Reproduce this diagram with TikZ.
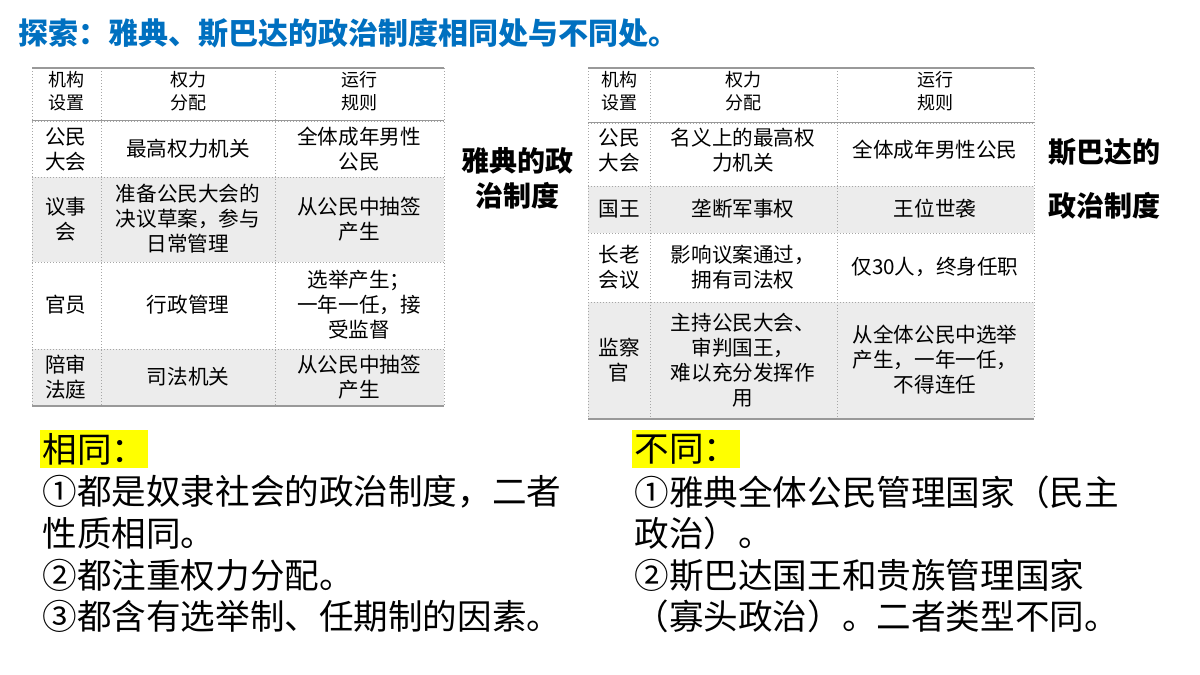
\documentclass[tikz,border=0pt]{standalone}
\usepackage{fontspec}
\setmainfont{Noto Sans CJK SC}
\usetikzlibrary{positioning}
\definecolor{titleblue}{RGB}{0,112,192}
\definecolor{rowgray}{RGB}{236,236,236}
\definecolor{hlyellow}{RGB}{255,255,0}
\begin{document}
\begin{tikzpicture}[x=0.5pt,y=-0.5pt,
    cell/.style={align=center, font=\fontsize{10.3}{12.5}\selectfont, inner sep=0pt},
    head/.style={align=center, font=\fontsize{9}{11.5}\selectfont, inner sep=0pt},
    grid/.style={gray!70, densely dotted, line width=0.5pt},
    rule/.style={gray!80, line width=1pt},
    side/.style={align=center, font=\fontsize{14}{17.5}\selectfont\bfseries},
    body/.style={anchor=west, font=\fontsize{17.3}{20}\selectfont, inner sep=0pt},
    hilite/.style={anchor=west, fill=hlyellow, font=\fontsize{17.3}{20}\selectfont, inner sep=1pt, minimum height=19pt}]
\useasboundingbox (0,0) rectangle (1200,675);
\fill[white] (0,0) rectangle (1200,675);
\node (title) [anchor=west, text=titleblue, font=\fontsize{15}{17}\selectfont\bfseries, inner sep=0pt] at (18,33)
    {探索：雅典、斯巴达的政治制度相同处与不同处。};

% Athens table
\fill[rowgray] (32,177) rectangle (444,262);
\fill[rowgray] (32,349) rectangle (444,406);
\foreach \y in {121,177,262,349} \draw[grid] (32,\y) -- (444,\y);
\foreach \x in {32,101,275,444} \draw[grid] (\x,68) -- (\x,406);
\draw[rule] (32,68) -- (444,68);
\draw[rule] (32,406) -- (444,406);
\draw[gray!80] (32,120) -- (444,120);
\node[head] (ahA) at (66,91) {机构\\设置};
\node[head] (ahB) at (188,91) {权力\\分配};
\node[head] (ahC) at (359,91) {运行\\规则};
\node[cell] (a1A) at (66,149) {公民\\大会};
\node[cell] (a1B) at (188,149) {最高权力机关};
\node[cell] (a1C) at (359,149) {全体成年男性\\公民};
\node[cell] (a2A) at (66,219) {议事\\会};
\node[cell] (a2B) at (188,219) {准备公民大会的\\决议草案，参与\\日常管理};
\node[cell] (a2C) at (359,219) {从公民中抽签\\产生};
\node[cell] (a3A) at (66,305) {官员};
\node[cell] (a3B) at (188,305) {行政管理};
\node[cell] (a3C) at (359,305) {选举产生；\\一年一任，接\\受监督};
\node[cell] (a4A) at (66,377) {陪审\\法庭};
\node[cell] (a4B) at (188,377) {司法机关};
\node[cell] (a4C) at (359,377) {从公民中抽签\\产生};
\node[side] (athens) at (517,178) {雅典的政\\治制度};

% Sparta table
\fill[rowgray] (588,186) rectangle (1034,233);
\fill[rowgray] (588,302) rectangle (1034,419);
\foreach \y in {123,186,233,302} \draw[grid] (588,\y) -- (1034,\y);
\foreach \x in {588,650,837,1034} \draw[grid] (\x,68) -- (\x,419);
\draw[rule] (588,68) -- (1034,68);
\draw[rule] (588,419) -- (1034,419);
\draw[gray!80] (588,122) -- (1034,122);
\node[head] (shA) at (619,91) {机构\\设置};
\node[head] (shB) at (743,91) {权力\\分配};
\node[head] (shC) at (935,91) {运行\\规则};
\node[cell] (s1A) at (619,150) {公民\\大会};
\node[cell] (s1B) at (743,150) {名义上的最高权\\力机关};
\node[cell] (s1C) at (935,150) {全体成年男性公民};
\node[cell] (s2A) at (619,209) {国王};
\node[cell] (s2B) at (743,209) {垄断军事权};
\node[cell] (s2C) at (935,209) {王位世袭};
\node[cell] (s3A) at (619,267) {长老\\会议};
\node[cell] (s3B) at (743,267) {影响议案通过，\\拥有司法权};
\node[cell] (s3C) at (935,267) {仅30人，终身任职};
\node[cell] (s4A) at (619,360) {监察\\官};
\node[cell] (s4B) at (743,360) {主持公民大会、\\审判国王，\\难以充分发挥作\\用};
\node[cell] (s4C) at (935,360) {从全体公民中选举\\产生，一年一任，\\不得连任};
\node[side, font=\fontsize{14}{27}\selectfont\bfseries] (sparta) at (1104,179) {斯巴达的\\政治制度};

% comparison
\node[hilite] (same) at (40,449) {相同：};
\node[body] (same1) at (42,492) {①都是奴隶社会的政治制度，二者};
\node[body] (same2) at (42,533) {性质相同。};
\node[body] (same3) at (42,575) {②都注重权力分配。};
\node[body] (same4) at (42,616) {③都含有选举制、任期制的因素。};
\node[hilite] (diff) at (632,449) {不同：};
\node[body] (diff1) at (634,492) {①雅典全体公民管理国家（民主};
\node[body] (diff2) at (634,533) {政治）。};
\node[body] (diff3) at (634,575) {②斯巴达国王和贵族管理国家};
\node[body] (diff4) at (634,616) {（寡头政治）。二者类型不同。};
\end{tikzpicture}
\end{document}
